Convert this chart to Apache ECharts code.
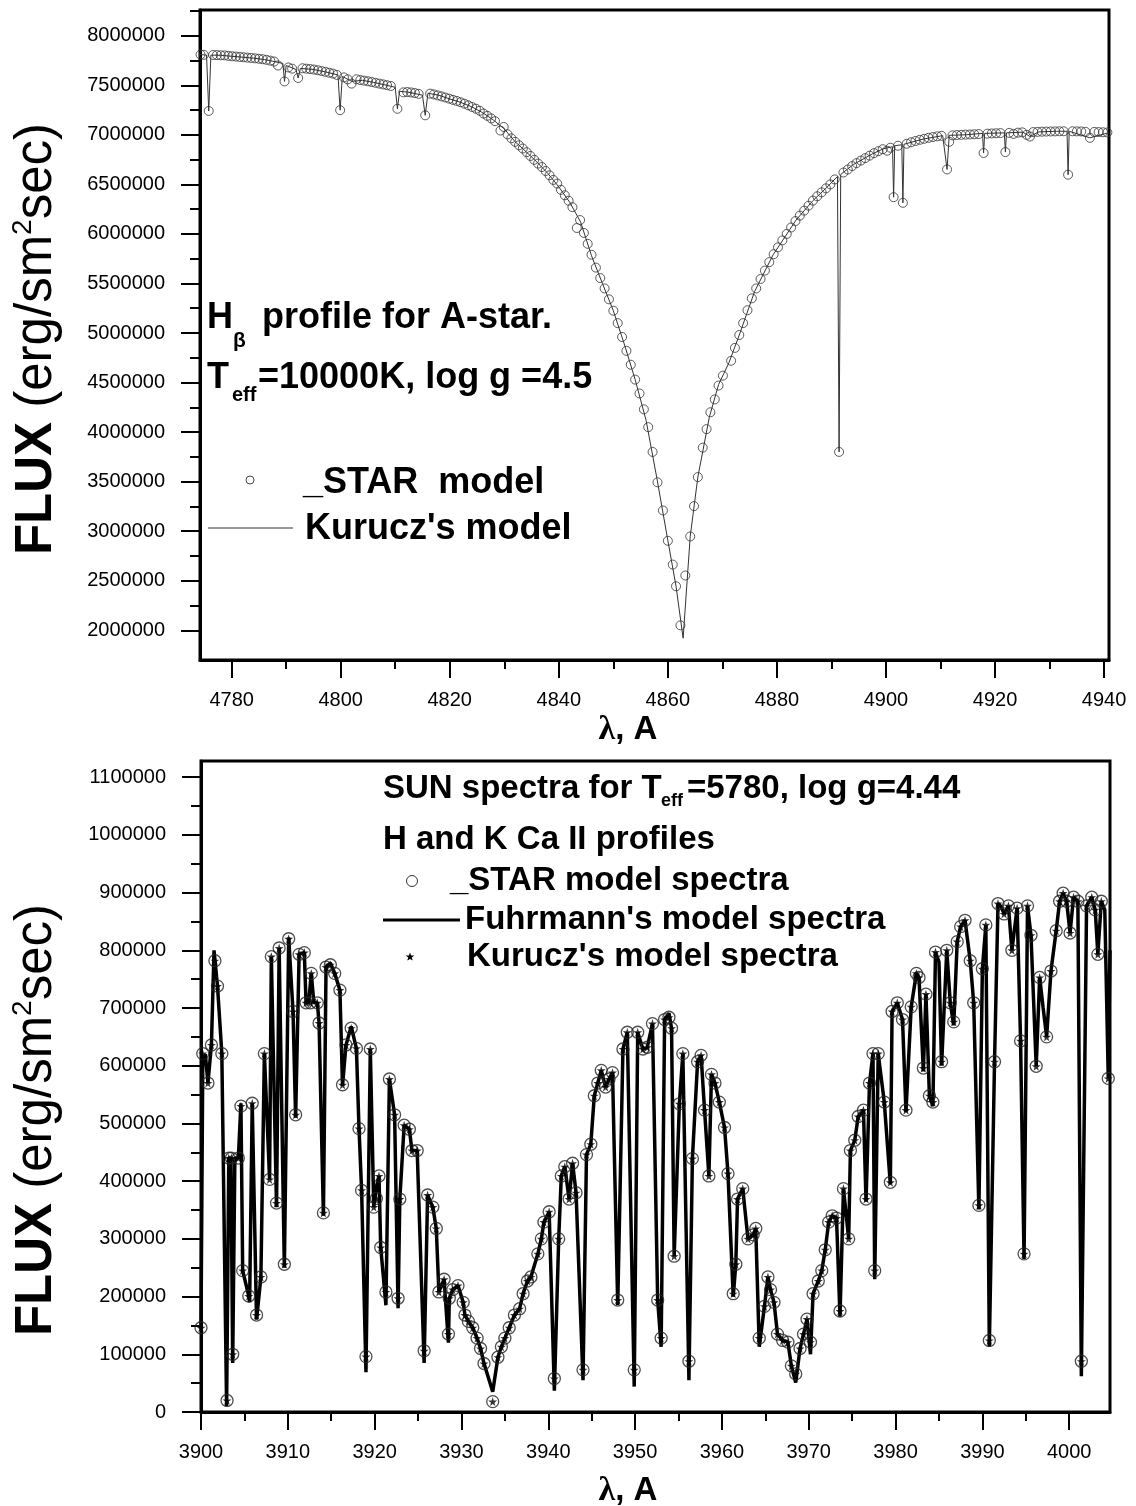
<!DOCTYPE html>
<html>
<head>
<meta charset="utf-8">
<title>H-beta and Ca II H&amp;K model spectra</title>
<script src="https://cdn.jsdelivr.net/npm/echarts@6.0.0/dist/echarts.min.js"></script>
<style>
  html, body { margin: 0; padding: 0; background: #fff; }
  #chart { width: 1136px; height: 1506px; }
</style>
</head>
<body>
<div id="chart"></div>
<script>
// ---- top panel: H-beta profile, A star (wavelength A, flux) ----
const kuruczHb = [
  [4774.2, 7811000], [4775.4, 7805000], [4775.8, 7241000], [4776.2, 7805000], [4778, 7803000],
  [4780, 7793000], [4782, 7784000], [4784, 7774000], [4786, 7760000], [4788, 7738000],
  [4789.4, 7720000], [4789.7, 7539000], [4790.0, 7700000], [4791.8, 7660000], [4792.2, 7574000],
  [4792.6, 7670000], [4795, 7660000], [4797, 7638000], [4799.5, 7605000], [4799.9, 7249000],
  [4800.3, 7590000], [4802, 7540000], [4804, 7550000], [4806, 7530000], [4808, 7506000],
  [4810, 7480000], [4810.4, 7263000], [4810.8, 7440000], [4812.5, 7430000], [4815, 7400000],
  [4815.5, 7197000], [4816.0, 7420000], [4818, 7400000], [4820, 7362000], [4822, 7328000],
  [4824, 7284000], [4826, 7225000], [4828, 7150000], [4830, 7060000], [4832, 6930000],
  [4834, 6830000], [4836, 6725000], [4838, 6610000], [4840, 6475000], [4842, 6320000],
  [4844, 6120000], [4846, 5780000], [4848, 5500000], [4850, 5225000], [4852, 4890000],
  [4854, 4530000], [4856, 4120000], [4858, 3530000], [4860, 2905000], [4861.5, 2444000],
  [4862.8, 1920000], [4864.1, 2947000], [4865.5, 3546000], [4867.6, 4150000], [4869.3, 4480000],
  [4871.2, 4700000], [4873.1, 4980000], [4875.9, 5418000], [4879.3, 5789000], [4883.5, 6139000],
  [4886.6, 6336000], [4889.1, 6467000], [4891.1, 6580000], [4891.4, 3800000], [4891.7, 6600000],
  [4894, 6700000], [4897.5, 6808000], [4899.6, 6861000], [4901.2, 6880000], [4901.4, 6371000],
  [4901.6, 6890000], [4902.9, 6900000], [4903.1, 6314000], [4903.3, 6905000], [4906.8, 6957000],
  [4910.4, 6992000], [4911.2, 6651000], [4911.6, 6995000], [4914.7, 7001000], [4917.7, 7015000],
  [4917.9, 6817000], [4918.1, 7015000], [4921.7, 7020000], [4921.9, 6826000], [4922.1, 7020000],
  [4925.1, 7027000], [4926.4, 6983000], [4928, 7030000], [4931.3, 7036000], [4933.2, 7036000],
  [4933.4, 6598000], [4933.6, 7036000], [4937.4, 6970000], [4940.9, 7022000]
];

const starHb = [
  [4774.3, 7810000], [4774.9, 7808000], [4775.8, 7241000], [4776.6, 7806000], [4777.3, 7805000],
  [4778, 7803000], [4778.7, 7802000], [4779.4, 7797000], [4780.1, 7793000], [4780.8, 7790000],
  [4781.5, 7786000], [4782.2, 7783000], [4782.9, 7779000], [4783.6, 7776000], [4784.3, 7772000],
  [4785, 7768000], [4785.7, 7763000], [4786.4, 7757000], [4787.1, 7749000], [4787.8, 7740000],
  [4788.5, 7700000], [4789.7, 7539000], [4790.4, 7680000], [4791.1, 7668000], [4792.2, 7574000],
  [4793, 7672000], [4793.7, 7668000], [4794.4, 7664000], [4795.1, 7659000], [4795.8, 7652000],
  [4796.5, 7644000], [4797.2, 7636000], [4797.9, 7627000], [4798.6, 7618000], [4799.3, 7605000],
  [4799.9, 7249000], [4800.6, 7580000], [4801.3, 7560000], [4802, 7517000], [4802.9, 7561000],
  [4803.6, 7553000], [4804.3, 7547000], [4805, 7540000], [4805.7, 7533000], [4806.4, 7525000],
  [4807.1, 7517000], [4807.8, 7509000], [4808.5, 7501000], [4809.2, 7493000], [4810.4, 7263000],
  [4811.5, 7429000], [4812.2, 7432000], [4812.9, 7428000], [4813.6, 7422000], [4814.3, 7414000],
  [4815.5, 7197000], [4816.4, 7416000], [4817.1, 7408000], [4817.8, 7398000], [4818.5, 7388000],
  [4819.2, 7377000], [4819.9, 7365000], [4820.6, 7353000], [4821.3, 7342000], [4822, 7329000],
  [4822.7, 7314000], [4823.4, 7298000], [4824.1, 7281000], [4824.8, 7264000], [4825.5, 7243000],
  [4826.2, 7215000], [4826.9, 7192000], [4827.6, 7166000], [4828.3, 7138000], [4829.3, 7043000],
  [4829.9, 7080000], [4830.6, 7005000], [4831.3, 6965000], [4832, 6930000], [4832.7, 6895000],
  [4833.4, 6862000], [4834.1, 6825000], [4834.8, 6787000], [4835.5, 6748000], [4836.2, 6710000],
  [4836.9, 6675000], [4837.6, 6635000], [4838.3, 6592000], [4839, 6545000], [4839.7, 6508000],
  [4840.4, 6445000], [4841.1, 6390000], [4841.8, 6335000], [4842.5, 6270000], [4843.3, 6060000],
  [4843.9, 6140000], [4844.6, 6010000], [4845.3, 5900000], [4846, 5790000], [4846.8, 5660000],
  [4847.6, 5555000], [4848.4, 5450000], [4849.2, 5340000], [4850, 5225000], [4850.8, 5100000],
  [4851.6, 4960000], [4852.4, 4820000], [4853.2, 4680000], [4854, 4530000], [4854.8, 4390000],
  [4855.6, 4230000], [4856.4, 4050000], [4857.2, 3800000], [4858.1, 3493000], [4859.1, 3209000],
  [4860, 2903000], [4860.9, 2663000], [4861.5, 2444000], [4862.3, 2050000], [4863.2, 2553000],
  [4864.1, 2947000], [4864.8, 3253000], [4865.5, 3546000], [4866.4, 3843000], [4867.1, 4030000],
  [4867.8, 4200000], [4868.6, 4330000], [4869.3, 4470000], [4870.1, 4570000], [4871.6, 4720000],
  [4872.3, 4850000], [4873.1, 4980000], [4873.8, 5100000], [4874.6, 5230000], [4875.4, 5350000],
  [4876.2, 5450000], [4877, 5545000], [4877.8, 5630000], [4878.6, 5715000], [4879.4, 5795000],
  [4880.2, 5865000], [4881, 5935000], [4881.8, 6000000], [4882.6, 6065000], [4883.4, 6130000],
  [4884.2, 6185000], [4885, 6235000], [4885.8, 6285000], [4886.6, 6336000], [4887.4, 6380000],
  [4888.2, 6420000], [4889, 6460000], [4889.8, 6500000], [4890.6, 6550000], [4891.4, 3800000],
  [4892.2, 6620000], [4893, 6650000], [4893.8, 6685000], [4894.6, 6715000], [4895.4, 6740000],
  [4896.2, 6765000], [4897, 6790000], [4897.8, 6815000], [4898.6, 6835000], [4899.4, 6855000],
  [4900.2, 6840000], [4900.8, 6870000], [4901.4, 6371000], [4902.2, 6890000], [4903.1, 6314000],
  [4903.8, 6910000], [4904.6, 6925000], [4905.4, 6938000], [4906.2, 6950000], [4907, 6960000],
  [4907.8, 6970000], [4908.6, 6978000], [4909.4, 6985000], [4910.2, 6990000], [4911.2, 6651000],
  [4911.6, 6930000], [4912.2, 6995000], [4913, 6998000], [4913.8, 7000000], [4914.6, 7002000],
  [4915.4, 7004000], [4916.2, 7006000], [4917, 7008000], [4917.9, 6817000], [4918.6, 7012000],
  [4919.4, 7014000], [4920.2, 7016000], [4921, 7018000], [4921.9, 6826000], [4922.6, 7020000],
  [4923.4, 7010000], [4924.2, 7022000], [4925, 7025000], [4925.8, 7000000], [4926.4, 6983000],
  [4927, 7028000], [4927.8, 7030000], [4928.6, 7032000], [4929.4, 7033000], [4930.2, 7034000],
  [4931, 7035000], [4931.8, 7036000], [4932.6, 7036000], [4933.4, 6598000], [4934.2, 7036000],
  [4935, 7035000], [4935.8, 7034000], [4936.6, 7030000], [4937.4, 6970000], [4938.2, 7030000],
  [4939, 7028000], [4939.8, 7026000], [4940.6, 7024000]
];

// ---- bottom panel: Sun, Ca II H and K ----
const fuhrmannSun = [
  [3900.0, 146000], [3900.2, 600000], [3900.5, 620000], [3900.8, 570000], [3901.2, 636000],
  [3901.5, 800000], [3901.9, 738000], [3902.4, 621000], [3902.95, 10000], [3903.2, 440000],
  [3903.45, 440000], [3903.65, 85000], [3903.9, 440000], [3904.3, 440000], [3904.6, 535000],
  [3904.8, 245000], [3905.5, 201000], [3905.6, 190000], [3905.9, 535000], [3906.4, 160000],
  [3906.9, 234000], [3907.3, 621000], [3907.9, 403000], [3908.1, 789000], [3908.7, 355000],
  [3909.0, 804000], [3909.6, 250000], [3910.1, 822000], [3910.6, 694000], [3910.9, 510000],
  [3911.3, 793000], [3911.9, 796000], [3912.1, 709000], [3912.4, 709000], [3912.7, 760000],
  [3913.0, 709000], [3913.4, 709000], [3913.6, 674000], [3914.1, 340000], [3914.4, 771000],
  [3914.9, 778000], [3915.4, 760000], [3916.0, 731000], [3916.3, 565000], [3916.7, 636000],
  [3917.3, 668000], [3917.9, 630000], [3918.2, 491000], [3918.5, 384000], [3919.0, 69000],
  [3919.5, 629000], [3919.9, 355000], [3920.2, 390000], [3920.5, 409000], [3920.7, 285000],
  [3921.3, 185000], [3921.7, 577000], [3922.3, 515000], [3922.7, 180000], [3922.9, 369000],
  [3923.4, 497000], [3924.0, 490000], [3924.3, 453000], [3924.9, 453000], [3925.7, 85000],
  [3926.1, 376000], [3926.7, 355000], [3927.1, 318000], [3927.4, 208000], [3928.0, 230000],
  [3928.5, 120000], [3928.6, 197000], [3929.0, 212000], [3929.6, 219000], [3930.2, 190000],
  [3930.4, 168000], [3930.8, 157000], [3931.3, 146000], [3931.8, 128000], [3932.2, 110000],
  [3932.6, 84000], [3933.6, 35000], [3934.2, 95000], [3934.6, 113000], [3935.0, 128000],
  [3935.5, 146000], [3936.1, 168000], [3936.7, 179000], [3937.1, 205000], [3937.6, 227000],
  [3938.0, 234000], [3938.8, 274000], [3939.2, 300000], [3939.5, 329000], [3940.1, 347000],
  [3940.7, 37000], [3941.2, 300000], [3941.5, 409000], [3941.9, 425000], [3942.4, 369000],
  [3942.8, 431000], [3943.2, 380000], [3944.0, 55000], [3944.4, 446000], [3944.9, 464000],
  [3945.3, 548000], [3945.7, 570000], [3946.1, 592000], [3946.6, 563000], [3947.0, 577000],
  [3947.4, 588000], [3948.0, 185000], [3948.6, 629000], [3949.1, 658000], [3949.9, 44000],
  [3950.3, 658000], [3950.9, 629000], [3951.4, 632000], [3952.0, 673000], [3952.6, 194000],
  [3953.0, 113000], [3953.4, 680000], [3953.9, 691000], [3954.2, 665000], [3954.5, 270000],
  [3955.1, 534000], [3955.5, 621000], [3956.2, 55000], [3956.6, 439000], [3957.2, 607000],
  [3957.6, 618000], [3958.0, 523000], [3958.5, 409000], [3958.8, 585000], [3959.2, 570000],
  [3959.7, 537000], [3960.3, 493000], [3960.7, 413000], [3961.3, 200000], [3961.6, 256000],
  [3961.8, 369000], [3962.4, 387000], [3963.0, 300000], [3963.6, 307000], [3963.9, 318000],
  [3964.3, 113000], [3964.9, 183000], [3965.3, 234000], [3965.6, 212000], [3966.0, 190000],
  [3966.4, 135000], [3967.0, 124000], [3967.6, 121000], [3968.0, 80000], [3968.5, 51000],
  [3969.0, 110000], [3969.4, 135000], [3969.8, 161000], [3970.2, 100000], [3970.5, 205000],
  [3971.1, 227000], [3971.5, 245000], [3971.9, 281000], [3972.3, 329000], [3972.7, 340000],
  [3973.2, 336000], [3973.6, 165000], [3974.0, 387000], [3974.6, 300000], [3974.8, 453000],
  [3975.3, 471000], [3975.7, 512000], [3976.3, 523000], [3976.6, 365000], [3977.0, 570000],
  [3977.4, 621000], [3977.6, 230000], [3978.0, 621000], [3978.7, 537000], [3979.4, 395000],
  [3979.6, 694000], [3980.2, 709000], [3980.8, 680000], [3981.2, 520000], [3981.8, 702000],
  [3982.4, 760000], [3982.7, 753000], [3983.2, 590000], [3983.5, 724000], [3983.9, 548000],
  [3984.3, 530000], [3984.6, 797000], [3985.0, 780000], [3985.3, 600000], [3985.9, 800000],
  [3986.3, 709000], [3986.7, 670000], [3987.1, 815000], [3987.5, 841000], [3988.0, 852000],
  [3988.6, 782000], [3989.0, 709000], [3989.6, 351000], [3990.0, 768000], [3990.4, 844000],
  [3990.8, 113000], [3991.4, 607000], [3991.8, 881000], [3992.2, 875000], [3992.5, 863000],
  [3993.0, 877000], [3993.4, 800000], [3994.0, 873000], [3994.4, 643000], [3994.8, 265000],
  [3995.2, 877000], [3995.6, 826000], [3996.2, 599000], [3996.6, 753000], [3997.0, 700000],
  [3997.4, 650000], [3997.9, 764000], [3998.5, 834000], [3998.9, 885000], [3999.3, 899000],
  [3999.7, 885000], [4000.1, 830000], [4000.5, 892000], [4001.0, 885000], [4001.4, 62000],
  [4002.0, 877000], [4002.6, 892000], [4003.0, 870000], [4003.3, 793000], [4003.7, 885000],
  [4004.1, 870000], [4004.5, 578000], [4004.7, 800000]
];

// model points: _STAR circles and Kurucz stars sit on the same spots at this scale
const sunModelPoints = [
  [3900.0, 146000], [3900.2, 621000], [3900.8, 570000], [3901.2, 636000], [3901.6, 782000],
  [3901.9, 738000], [3902.4, 621000], [3903.0, 20000], [3903.2, 440000], [3903.5, 440000],
  [3903.65, 100000], [3904.3, 440000], [3904.6, 530000], [3904.8, 245000], [3905.5, 201000],
  [3905.9, 535000], [3906.4, 168000], [3906.9, 234000], [3907.3, 621000], [3907.9, 403000],
  [3908.1, 789000], [3908.7, 362000], [3909.0, 804000], [3909.6, 256000], [3910.1, 820000],
  [3910.6, 694000], [3910.9, 515000], [3911.3, 793000], [3911.9, 796000], [3912.1, 709000],
  [3912.6, 709000], [3912.7, 760000], [3913.4, 709000], [3913.6, 674000], [3914.1, 345000],
  [3914.4, 771000], [3914.9, 775000], [3915.4, 760000], [3916.0, 731000], [3916.3, 567000],
  [3916.7, 636000], [3917.3, 665000], [3917.9, 630000], [3918.2, 491000], [3918.5, 384000],
  [3919.0, 96000], [3919.5, 629000], [3919.9, 355000], [3920.2, 370000], [3920.5, 409000],
  [3920.7, 285000], [3921.3, 208000], [3921.7, 577000], [3922.3, 515000], [3922.7, 197000],
  [3922.9, 369000], [3923.4, 497000], [3924.0, 490000], [3924.3, 453000], [3924.9, 453000],
  [3925.7, 106000], [3926.1, 376000], [3926.7, 355000], [3927.1, 318000], [3927.4, 208000],
  [3928.0, 230000], [3928.5, 135000], [3928.6, 197000], [3929.0, 212000], [3929.6, 219000],
  [3930.2, 190000], [3930.4, 168000], [3930.8, 157000], [3931.3, 146000], [3931.8, 128000],
  [3932.2, 110000], [3932.6, 84000], [3933.6, 18000], [3934.2, 95000], [3934.6, 113000],
  [3935.0, 128000], [3935.5, 146000], [3936.1, 168000], [3936.7, 179000], [3937.1, 205000],
  [3937.6, 227000], [3938.0, 234000], [3938.8, 274000], [3939.2, 300000], [3939.5, 329000],
  [3940.1, 347000], [3940.7, 58000], [3941.2, 300000], [3941.5, 409000], [3941.9, 425000],
  [3942.4, 369000], [3942.8, 431000], [3943.2, 380000], [3944.0, 73000], [3944.4, 446000],
  [3944.9, 464000], [3945.3, 548000], [3945.7, 570000], [3946.1, 592000], [3946.6, 563000],
  [3947.0, 577000], [3947.4, 588000], [3948.0, 194000], [3948.6, 629000], [3949.1, 658000],
  [3949.9, 73000], [3950.3, 658000], [3950.9, 629000], [3951.4, 632000], [3952.0, 673000],
  [3952.6, 194000], [3953.0, 128000], [3953.4, 680000], [3953.9, 684000], [3954.2, 665000],
  [3954.5, 270000], [3955.1, 534000], [3955.5, 621000], [3956.2, 88000], [3956.6, 439000],
  [3957.2, 607000], [3957.6, 618000], [3958.0, 523000], [3958.5, 409000], [3958.8, 585000],
  [3959.2, 570000], [3959.7, 537000], [3960.3, 493000], [3960.7, 413000], [3961.3, 205000],
  [3961.6, 256000], [3961.8, 369000], [3962.4, 387000], [3963.0, 300000], [3963.6, 307000],
  [3963.9, 318000], [3964.3, 128000], [3964.9, 183000], [3965.3, 234000], [3965.6, 212000],
  [3966.0, 190000], [3966.4, 135000], [3967.0, 124000], [3967.6, 121000], [3968.0, 80000],
  [3968.5, 66000], [3969.0, 110000], [3969.4, 135000], [3969.8, 161000], [3970.2, 121000],
  [3970.5, 205000], [3971.1, 227000], [3971.5, 245000], [3971.9, 281000], [3972.3, 329000],
  [3972.7, 340000], [3973.2, 336000], [3973.6, 175000], [3974.0, 387000], [3974.6, 300000],
  [3974.8, 453000], [3975.3, 471000], [3975.7, 512000], [3976.3, 523000], [3976.6, 369000],
  [3977.0, 570000], [3977.4, 621000], [3977.6, 245000], [3978.0, 621000], [3978.7, 537000],
  [3979.4, 398000], [3979.6, 694000], [3980.2, 709000], [3980.8, 680000], [3981.2, 523000],
  [3981.8, 702000], [3982.4, 760000], [3982.7, 753000], [3983.2, 596000], [3983.5, 724000],
  [3983.9, 548000], [3984.3, 537000], [3984.6, 797000], [3985.3, 607000], [3985.9, 800000],
  [3986.3, 709000], [3986.7, 676000], [3987.1, 815000], [3987.5, 841000], [3988.0, 852000],
  [3988.6, 782000], [3989.0, 709000], [3989.6, 358000], [3990.0, 768000], [3990.4, 844000],
  [3990.8, 124000], [3991.4, 607000], [3991.8, 881000], [3992.5, 863000], [3993.0, 877000],
  [3993.4, 800000], [3994.0, 873000], [3994.4, 643000], [3994.8, 274000], [3995.2, 877000],
  [3995.6, 826000], [3996.2, 599000], [3996.6, 753000], [3997.4, 650000], [3997.9, 764000],
  [3998.5, 834000], [3998.9, 885000], [3999.3, 899000], [3999.7, 885000], [4000.1, 830000],
  [4000.5, 892000], [4001.0, 885000], [4001.4, 88000], [4002.0, 877000], [4002.6, 892000],
  [4003.0, 870000], [4003.3, 793000], [4003.7, 885000], [4004.5, 578000]
];

// ---- axis ticks ----
const hbWaveLabels = [4780, 4800, 4820, 4840, 4860, 4880, 4900, 4920, 4940];
const hbWaveMinor = [4790, 4810, 4830, 4850, 4870, 4890, 4910, 4930];
const hbFluxLabels = [2000000, 2500000, 3000000, 3500000, 4000000, 4500000, 5000000,
  5500000, 6000000, 6500000, 7000000, 7500000, 8000000];
const hbFluxMinor = [2250000, 2750000, 3250000, 3750000, 4250000, 4750000, 5250000,
  5750000, 6250000, 6750000, 7250000, 7750000, 8250000];
const sunWaveLabels = [3900, 3910, 3920, 3930, 3940, 3950, 3960, 3970, 3980, 3990, 4000];
const sunWaveMinor = [3905, 3915, 3925, 3935, 3945, 3955, 3965, 3975, 3985, 3995];
const sunFluxLabels = [0, 100000, 200000, 300000, 400000, 500000, 600000, 700000,
  800000, 900000, 1000000, 1100000];
const sunFluxMinor = [50000, 150000, 250000, 350000, 450000, 550000, 650000, 750000,
  850000, 950000, 1050000];

const FONT = '"Liberation Sans", Arial, Helvetica, sans-serif';
const STAR = 'path://M50,0 L61,35 L98,35 L68,57 L79,91 L50,70 L21,91 L32,57 L2,35 L39,35 Z';

// one value axis; the "minor" copy only draws short ticks
function axis(grid, pos, min, max, values, tickLen, main, margin) {
  return {
    type: 'value',
    gridIndex: grid,
    position: pos,
    min: min,
    max: max,
    axisLine: { show: main, onZero: false, lineStyle: { color: '#000', width: 3 } },
    axisTick: { show: true, inside: false, length: tickLen, customValues: values,
      lineStyle: { color: '#000', width: 2 } },
    axisLabel: { show: main, customValues: values, margin: margin, color: '#000',
      fontSize: 20, fontFamily: FONT, formatter: v => String(v) },
    splitLine: { show: false },
    minorTick: { show: false }
  };
}

function txt(x, y, text, size, bold) {
  return {
    type: 'text', x: x, y: y, z: 20,
    style: { text: text, fill: '#000', fontSize: size, fontWeight: bold ? 'bold' : 'normal',
      fontFamily: FONT, align: 'left', verticalAlign: 'middle' }
  };
}

function yTitle(cy) {
  return {
    type: 'text', x: 37, y: cy, rotation: Math.PI / 2, z: 20,
    style: {
      text: '{b|FLUX }{r|(erg/sm}{s|2}{r|sec)}',
      align: 'center', verticalAlign: 'middle', fill: '#000',
      rich: {
        b: { fontSize: 51, fontWeight: 'bold', fontFamily: FONT, lineHeight: 56 },
        r: { fontSize: 51, fontFamily: FONT, lineHeight: 56 },
        s: { fontSize: 28, fontFamily: FONT, lineHeight: 56, verticalAlign: 'top', padding: [0, 0, 22, 0] }
      }
    }
  };
}

function xTitle(cy) {
  return {
    type: 'text', x: 628, y: cy, z: 20,
    style: {
      text: '{l|λ}{a|, A}', align: 'center', verticalAlign: 'middle', fill: '#000',
      rich: {
        l: { fontSize: 34, fontWeight: 'bold', fontFamily: '"Liberation Serif", "DejaVu Serif", serif' },
        a: { fontSize: 33, fontWeight: 'bold', fontFamily: FONT }
      }
    }
  };
}

let myChart = echarts.init(document.getElementById('chart'), null, { renderer: 'canvas' });

let option = {
  backgroundColor: '#fff',
  animation: false,
  grid: [
    { left: 200, top: 10, width: 909, height: 650, show: true, borderColor: '#000', borderWidth: 3 },
    { left: 201, top: 761, width: 909, height: 651, show: true, borderColor: '#000', borderWidth: 3 }
  ],
  xAxis: [
    axis(0, 'bottom', 4774.2, 4940.9, hbWaveLabels, 18, true, 30),
    axis(0, 'bottom', 4774.2, 4940.9, hbWaveMinor, 9, false, 30),
    axis(1, 'bottom', 3900, 4004.7, sunWaveLabels, 18, true, 30),
    axis(1, 'bottom', 3900, 4004.7, sunWaveMinor, 9, false, 30)
  ],
  yAxis: [
    axis(0, 'left', 1700000, 8260000, hbFluxLabels, 19, true, 35),
    axis(0, 'left', 1700000, 8260000, hbFluxMinor, 10, false, 35),
    axis(1, 'left', 0, 1128000, sunFluxLabels, 19, true, 35),
    axis(1, 'left', 0, 1128000, sunFluxMinor, 10, false, 35)
  ],
  series: [
    {
      name: "Kurucz's model", type: 'line', xAxisIndex: 0, yAxisIndex: 0,
      data: kuruczHb, showSymbol: false, clip: true, z: 2,
      lineStyle: { color: '#333', width: 1 }
    },
    {
      name: '_STAR model', type: 'scatter', xAxisIndex: 0, yAxisIndex: 0,
      data: starHb, symbol: 'circle', symbolSize: 9, clip: true, z: 3,
      itemStyle: { color: 'rgba(0,0,0,0)', borderColor: '#333', borderWidth: 1 }
    },
    {
      name: "Fuhrmann's model spectra", type: 'line', xAxisIndex: 2, yAxisIndex: 2,
      data: fuhrmannSun, showSymbol: false, clip: true, z: 2,
      lineStyle: { color: '#000', width: 3.5 }
    },
    {
      name: '_STAR model spectra', type: 'scatter', xAxisIndex: 2, yAxisIndex: 2,
      data: sunModelPoints, symbol: 'circle', symbolSize: 12, clip: true, z: 3,
      itemStyle: { color: 'rgba(0,0,0,0)', borderColor: '#222', borderWidth: 1.3 }
    },
    {
      name: "Kurucz's model spectra", type: 'scatter', xAxisIndex: 2, yAxisIndex: 2,
      data: sunModelPoints, symbol: STAR, symbolSize: 9, clip: true, z: 4,
      itemStyle: { color: '#000' }
    }
  ],
  graphic: [
    yTitle(339),
    yTitle(1120),
    xTitle(730),
    xTitle(1491),

    // top panel notes
    txt(207, 318, 'H', 36, true),
    txt(233, 341, 'β', 21, true),
    txt(262, 318, 'profile for A-star.', 36, true),
    txt(207, 378, 'T', 36, true),
    txt(232, 395, 'eff', 20, true),
    txt(258, 378, '=10000K, log g =4.5', 36, true),
    { type: 'circle', z: 20, shape: { cx: 250, cy: 480, r: 4 },
      style: { fill: 'none', stroke: '#444', lineWidth: 1 } },
    txt(303, 483, '_STAR  model', 36, true),
    { type: 'line', z: 20, shape: { x1: 208, y1: 528, x2: 293, y2: 528 },
      style: { stroke: '#333', lineWidth: 1 } },
    txt(305, 529, "Kurucz's model", 36, true),

    // bottom panel notes
    txt(383, 789, 'SUN spectra for T', 33, true),
    txt(661, 801, 'eff', 18, true),
    txt(687, 789, '=5780, log g=4.44', 33, true),
    txt(383, 840, 'H and K Ca II profiles', 33, true),
    { type: 'circle', z: 20, shape: { cx: 412, cy: 881, r: 5.5 },
      style: { fill: 'none', stroke: '#333', lineWidth: 1 } },
    txt(450, 881, '_STAR model spectra', 33, true),
    { type: 'line', z: 20, shape: { x1: 383, y1: 920, x2: 460, y2: 920 },
      style: { stroke: '#000', lineWidth: 3 } },
    txt(465, 920, "Fuhrmann's model spectra", 33, true),
    { type: 'polygon', z: 20, shape: { points: [
      [410, 952.5], [411.1, 955.5], [414.3, 955.6], [411.8, 957.6], [412.7, 960.6],
      [410, 958.9], [407.3, 960.6], [408.2, 957.6], [405.7, 955.6], [408.9, 955.5]
    ] }, style: { fill: '#000' } },
    txt(467, 957, "Kurucz's model spectra", 33, true)
  ]
};

myChart.setOption(option);
</script>
</body>
</html>
